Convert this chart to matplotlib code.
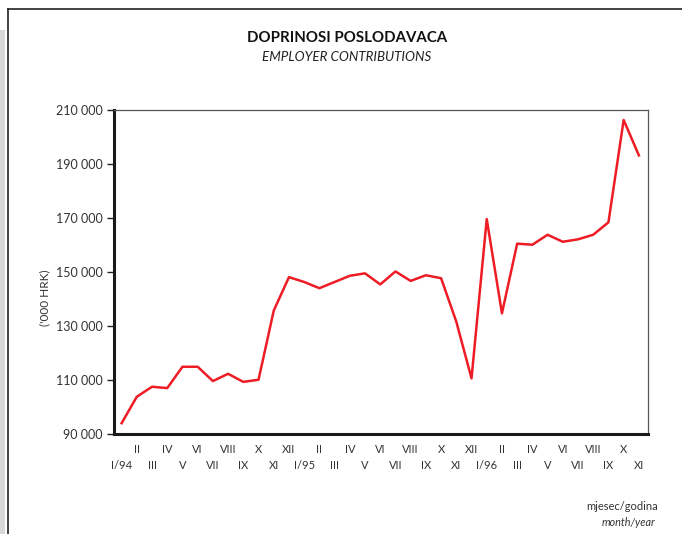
import matplotlib.pyplot as plt
from matplotlib.lines import Line2D
from matplotlib.patches import Rectangle
import numpy as np

# mjesečni podaci I/94 - XI/96, u tisućama kuna
months = ["I/94", "II", "III", "IV", "V", "VI", "VII", "VIII", "IX", "X", "XI", "XII",
          "I/95", "II", "III", "IV", "V", "VI", "VII", "VIII", "IX", "X", "XI", "XII",
          "I/96", "II", "III", "IV", "V", "VI", "VII", "VIII", "IX", "X", "XI"]
values = [94000, 103800, 107500, 107000, 114900, 114900, 109600, 112300, 109300, 110100,
          135700, 148100, 146300, 144000, 146300, 148600, 149500, 145400, 150200, 146700,
          148800, 147700, 131600, 110600, 169600, 134700, 160500, 160100, 163800, 161200,
          162100, 163800, 168400, 206300, 193200]
yticks = [90000, 110000, 130000, 150000, 170000, 190000, 210000]

FONT = "Lato"
txtcol = "#333333"

fig = plt.figure(figsize=(6.82, 5.34), dpi=100)

# okvir stranice
fig.add_artist(Line2D([8/682, 8/682], [0, 1 - 9/534], transform=fig.transFigure,
                      color="#222222", lw=1.2))
fig.add_artist(Line2D([8/682, 1], [1 - 9/534, 1 - 9/534], transform=fig.transFigure,
                      color="#222222", lw=1.2))
fig.add_artist(Rectangle((0, 0), 5/682, 1 - 30/534, transform=fig.transFigure,
                         color="#d8d8d8", lw=0))

ax = fig.add_axes([114/682, 1 - 434/534, (648 - 114)/682, (434 - 110)/534])
x = np.arange(len(values))
ax.plot(x, values, color="#ee1c25", lw=1.8)

ax.set_ylim(90000, 210000)
ax.set_xlim(-0.5, len(values) - 0.4)
ax.set_yticks(yticks)
ax.set_yticklabels([f"{v:,}".replace(",", " ") for v in yticks],
                   fontsize=9, color=txtcol, fontfamily=FONT)
ax.tick_params(axis="y", length=5, width=1, color="#222222", pad=3)

# dvoredne oznake mjeseci
ax.set_xticks(x)
ax.set_xticklabels([])
ax.tick_params(axis="x", length=0)
for i, m in enumerate(months):
    yoff = -11 if i % 2 == 1 else -22.5
    ax.annotate(m, (i, 0), xycoords=("data", "axes fraction"), xytext=(0, yoff),
                textcoords="offset points", ha="center", va="center",
                fontsize=8, color=txtcol, fontfamily=FONT)

for s in ["left", "bottom"]:
    ax.spines[s].set_linewidth(2.2)
    ax.spines[s].set_color("#1a1a1a")
for s in ["top", "right"]:
    ax.spines[s].set_linewidth(0.9)
    ax.spines[s].set_color("#555555")

fig.text(45/682, 1 - 298/534, "('000 HRK)", rotation=90, ha="center", va="center",
         fontsize=8.5, color=txtcol, fontfamily=FONT)

fig.text(347/682, 1 - 38/534, "DOPRINOSI POSLODAVACA", ha="center", va="center",
         fontsize=10.8, fontweight="bold", color="#111111", fontfamily=FONT)
fig.text(347/682, 1 - 57/534, "EMPLOYER CONTRIBUTIONS", ha="center", va="center",
         fontsize=9.6, fontstyle="italic", color="#222222", fontfamily=FONT)

fig.text(658/682, 1 - 507/534, "mjesec/godina", ha="right", va="center",
         fontsize=8, color=txtcol, fontfamily=FONT)
fig.text(655/682, 1 - 522/534, "month/year", ha="right", va="center",
         fontsize=7.8, fontstyle="italic", color=txtcol, fontfamily=FONT)

fig.savefig("out.png", dpi=100)
